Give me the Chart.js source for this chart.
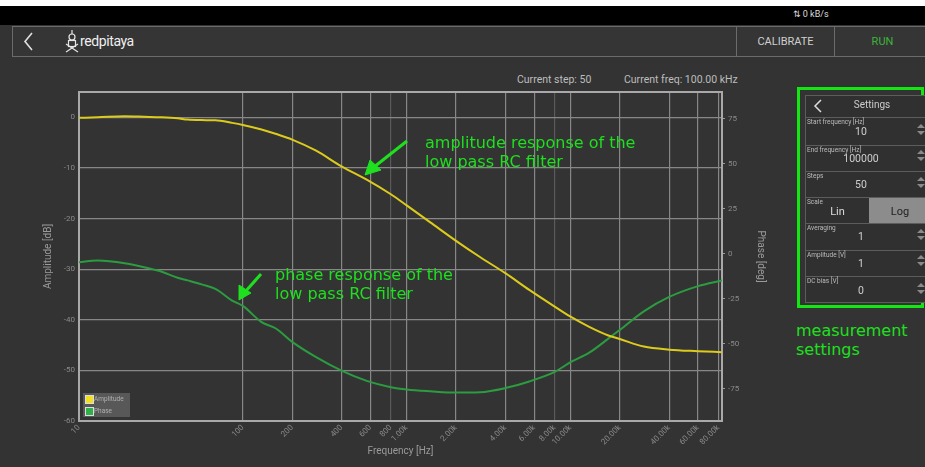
<!DOCTYPE html>
<html>
<head>
<meta charset="utf-8">
<title>Bode analyser</title>
<script src="https://cdn.jsdelivr.net/npm/chart.js@4.4.1/dist/chart.umd.min.js"></script>
<style>
  html, body { margin: 0; padding: 0; }
  body {
    width: 925px; height: 467px; background: #333; position: relative; overflow: hidden;
    font-family: Roboto, "DejaVu Sans", sans-serif; color: #ccc;
  }
  .abs { position: absolute; white-space: nowrap; }
  #strip { left: 0; top: 0; width: 925px; height: 6px; background: #fff; }
  #statusbar { left: 0; top: 6px; width: 925px; height: 19px; background: #000; }
  #header { left: 12px; top: 26px; width: 930px; height: 29px; border: 1px solid #6b6b6b; background: #353535; }
  .sep { width: 1px; height: 30px; top: 26px; background: #6b6b6b; }
  .hbtn { top: 35px; font-size: 11px; color: #cfcfcf; text-align: center; }
  #step { left: 517px; top: 73px; font-size: 10.5px; color: #bdbdbd; }
  #freq { left: 624px; top: 73px; font-size: 10.5px; color: #bdbdbd; }

  #chartwrap { left: 30px; top: 60px; width: 760px; height: 407px; }
  #legend { left: 83px; top: 393px; width: 47px; height: 24px; background: rgba(95,95,95,0.85); }
  #legend div { position: relative; height: 12px; font-size: 6.5px; line-height: 12px; color: #b0b0b0; padding-left: 11px; }
  #legend i { position: absolute; left: 2px; top: 2px; width: 7px; height: 7px; border: 1px solid #ddd; }

  .note { font-family: "DejaVu Sans", sans-serif; font-size: 16px; line-height: 19px; color: #1ee01e; }

  #setbox { left: 797px; top: 87px; width: 127px; height: 221px; border: 3px solid #14e614; box-sizing: border-box; }
  #panel { left: 805px; top: 95px; width: 130px; height: 208px; border: 1px solid #5c5c5c; background: #303030; box-sizing: border-box; }
  .row { left: 805px; width: 130px; border-top: 1px solid #5c5c5c; }
  .lbl { font-size: 6.5px; color: #bdbdbd; left: 807px; }
  .val { font-size: 10.5px; color: #cfcfcf; width: 60px; text-align: center; left: 831px; }
</style>
</head>
<body>
<div class="abs" id="strip"></div>
<div class="abs" id="statusbar"></div>
<div class="abs" style="left:793px;top:9px;font-size:9px;color:#ddd;">&#8645; 0 kB/s</div>

<div class="abs" id="header"></div>
<svg class="abs" style="left:0;top:0" width="925" height="60">
  <polyline points="32,33 25,41.5 32,50" fill="none" stroke="#e0e0e0" stroke-width="1.6"/>
  <!-- robot logo -->
  <g fill="none" stroke="#e6e6e6" stroke-width="1.2">
    <circle cx="72" cy="37" r="3"/>
    <line x1="72" y1="30" x2="72" y2="34"/>
    <rect x="68.5" y="40.5" width="7" height="6"/>
    <line x1="66" y1="52" x2="78" y2="44"/>
    <line x1="66" y1="44" x2="78" y2="52"/>
  </g>
</svg>
<div class="abs" style="left:80px;top:33px;font-family:'Liberation Sans Narrow','Roboto',sans-serif;font-size:14px;color:#eee;letter-spacing:-0.4px;">redpitaya</div>
<div class="abs sep" style="left:736px"></div>
<div class="abs sep" style="left:834px"></div>
<div class="abs hbtn" style="left:737px;width:97px;">CALIBRATE</div>
<div class="abs hbtn" style="left:835px;width:95px;color:#3cb43c;">RUN</div>

<div class="abs" id="step">Current step: 50</div>
<div class="abs" id="freq">Current freq: 100.00 kHz</div>

<div class="abs" id="chartwrap"><canvas id="bode" width="760" height="407"></canvas></div>
<div class="abs" id="legend"></div>

<!-- callouts -->
<div class="abs note" style="left:425px;top:133px;">amplitude response of the<br>low pass RC filter</div>
<div class="abs note" style="left:275px;top:265px;">phase response of the<br>low pass RC filter</div>
<div class="abs note" style="left:796px;top:321px;">measurement<br>settings</div>
<svg class="abs" style="left:0;top:0" width="925" height="467">
  <g stroke="#1ee01e" stroke-width="3" fill="#1ee01e">
    <line x1="407" y1="141" x2="374" y2="167"/>
    <polygon points="365,175 370,160 381,170" stroke-width="1"/>
    <line x1="261" y1="274" x2="245" y2="292"/>
    <polygon points="239,300 239,285 251,293" stroke-width="1"/>
  </g>
</svg>

<!-- settings panel -->
<div class="abs" id="setbox"></div>
<div class="abs" id="panel"></div>
<svg class="abs" style="left:0;top:0" width="925" height="310">
  <polyline points="821,100 815,106 821,112" fill="none" stroke="#ddd" stroke-width="1.5"/>
  <g fill="#8a8a8a">
    <polygon points="917,128 925,128 921,124"/><polygon points="917,131 925,131 921,135"/>
    <polygon points="917,154 925,154 921,150"/><polygon points="917,157 925,157 921,161"/>
    <polygon points="917,181 925,181 921,177"/><polygon points="917,184 925,184 921,188"/>
    <polygon points="917,233 925,233 921,229"/><polygon points="917,236 925,236 921,240"/>
    <polygon points="917,259 925,259 921,255"/><polygon points="917,262 925,262 921,266"/>
    <polygon points="917,287 925,287 921,283"/><polygon points="917,290 925,290 921,294"/>
  </g>
</svg>
<div class="abs" style="left:806px;top:99px;width:132px;text-align:center;font-size:10px;color:#ccc;">Settings</div>
<div class="abs row" style="top:117px;"></div>
<div class="abs lbl" style="top:118px;">Start frequency [Hz]</div>
<div class="abs val" style="top:125px;">10</div>
<div class="abs row" style="top:145px;"></div>
<div class="abs lbl" style="top:146px;">End frequency [Hz]</div>
<div class="abs val" style="top:152px;">100000</div>
<div class="abs row" style="top:171px;"></div>
<div class="abs lbl" style="top:172px;">Steps</div>
<div class="abs val" style="top:178px;">50</div>
<div class="abs row" style="top:197px;"></div>
<div class="abs" style="left:869px;top:198px;width:60px;height:25px;background:#8c8c8c;"></div>
<div class="abs lbl" style="top:198px;">Scale</div>
<div class="abs" style="left:806px;top:205px;width:63px;text-align:center;font-size:11px;color:#ddd;">Lin</div>
<div class="abs" style="left:869px;top:205px;width:62px;text-align:center;font-size:11px;color:#222;">Log</div>
<div class="abs row" style="top:223px;"></div>
<div class="abs lbl" style="top:224px;">Averaging</div>
<div class="abs val" style="top:230px;">1</div>
<div class="abs row" style="top:250px;"></div>
<div class="abs lbl" style="top:251px;">Amplitude [V]</div>
<div class="abs val" style="top:257px;">1</div>
<div class="abs row" style="top:276px;"></div>
<div class="abs lbl" style="top:277px;">DC bias [V]</div>
<div class="abs val" style="top:284px;">0</div>

<script>
// sweep 10 Hz .. 100 kHz, values
const freqHz = [10, 13, 19, 25, 32, 40, 46, 56, 68, 86, 100, 130, 160, 200, 280, 400, 570, 800,
    1000, 1400, 2000, 2800, 4000, 5600, 8000, 10000, 13000, 17000, 20000, 28000, 40000, 60000, 84000];
const amplitudeDb = [-0.1, 0, 0.2, 0.1, 0, -0.2, -0.45, -0.55, -0.6, -1.1, -1.5, -2.4, -3.3, -4.4, -6.6, -9.7, -12.3, -15.2,
    -17.4, -20.8, -24.4, -27.6, -30.8, -34.1, -37.4, -39.4, -41.4, -43.1, -43.8, -45.3, -45.9, -46.2, -46.4];
const phaseDeg = [-4.7, -3.7, -5.2, -7.5, -10, -13.3, -14.8, -17, -19.5, -26, -29, -38, -41.7, -49, -57.5, -65, -70.7, -74.2,
    -75.5, -76.5, -77.2, -77, -74.7, -71, -65.7, -60.3, -55, -47.2, -42.3, -32, -24, -18, -14.8];

const xTicks = [10, 100, 200, 400, 600, 800, 1000, 2000, 4000, 6000, 8000, 10000, 20000, 40000, 60000, 80000];
const xTickLabels = ['10', '100', '200', '400', '600', '800', '1.00k', '2.00k', '4.00k', '6.00k', '8.00k',
    '10.00k', '20.00k', '40.00k', '60.00k', '80.00k'];
const faintTicks = [800, 8000];

const gridCol = '#878787';
const frameCol = '#a9a9a9';
const tickFont = { family: 'Roboto', size: 8 };
const titleFont = { family: 'Roboto', size: 10 };

// top edge of the plot frame
const frameTop = {
    id: 'frameTop',
    afterDraw(chart) {
        const a = chart.chartArea, c = chart.ctx;
        c.save();
        c.strokeStyle = frameCol;
        c.lineWidth = 2;
        c.beginPath();
        c.moveTo(a.left - 1, a.top);
        c.lineTo(a.right + 1, a.top);
        c.stroke();
        c.restore();
    }
};

const bode = new Chart(document.getElementById('bode'), {
    type: 'line',
    data: {
        datasets: [{
            label: 'Amplitude',
            data: freqHz.map((f, i) => ({ x: f, y: amplitudeDb[i] })),
            borderColor: '#dccb1c',
            backgroundColor: '#f0e020',
            borderWidth: 2,
            pointRadius: 0,
            cubicInterpolationMode: 'monotone',
            yAxisID: 'y'
        }, {
            label: 'Phase',
            data: freqHz.map((f, i) => ({ x: f, y: phaseDeg[i] })),
            borderColor: '#2c9c40',
            backgroundColor: '#2fb04a',
            borderWidth: 2,
            pointRadius: 0,
            cubicInterpolationMode: 'monotone',
            yAxisID: 'y1'
        }]
    },
    options: {
        responsive: false,
        animation: false,
        devicePixelRatio: 1,
        layout: { padding: { top: 32, left: 0, right: 0, bottom: 0 } },
        plugins: { legend: { display: false }, tooltip: { enabled: false } },
        scales: {
            x: {
                type: 'logarithmic',
                min: 10,
                max: 84000,
                afterBuildTicks: s => { s.ticks = xTicks.map(v => ({ value: v })); },
                afterFit: s => { s.height = 46; },
                ticks: {
                    autoSkip: false,
                    minRotation: 45,
                    maxRotation: 45,
                    padding: 2,
                    color: '#8a8a8a',
                    font: tickFont,
                    callback: (v, i) => xTickLabels[i]
                },
                grid: {
                    drawTicks: false,
                    lineWidth: 1.2,
                    color: c => faintTicks.includes(c.tick && c.tick.value) ? '#5a5a5a' : gridCol
                },
                border: { color: frameCol, width: 2 },
                title: { display: true, text: 'Frequency [Hz]', color: '#9a9a9a', font: titleFont, padding: { bottom: 10 } }
            },
            y: {
                position: 'left',
                min: -60,
                max: 5,
                afterFit: s => { s.width = 49; },
                ticks: { stepSize: 10, includeBounds: false, padding: 4, color: '#8a8a8a', font: tickFont },
                grid: { drawTicks: false, lineWidth: 1.2, color: gridCol },
                border: { color: frameCol, width: 2 },
                title: { display: true, text: 'Amplitude [dB]', color: '#9a9a9a', font: titleFont, padding: { top: 12 } }
            },
            y1: {
                position: 'right',
                min: -93,
                max: 90,
                afterFit: s => { s.width = 68; },
                ticks: { stepSize: 25, includeBounds: false, padding: 3, color: '#8a8a8a', font: tickFont },
                grid: { drawOnChartArea: false, tickLength: 3, color: '#9a9a9a' },
                border: { color: frameCol, width: 2 },
                title: { display: true, text: 'Phase [deg]', color: '#9a9a9a', font: titleFont, padding: { top: 24 } }
            }
        }
    },
    plugins: [frameTop]
});

// small legend box in the lower left of the plot
const legendBox = document.getElementById('legend');
bode.data.datasets.forEach(ds => {
    const item = document.createElement('div');
    item.innerHTML = '<i style="background:' + ds.backgroundColor + '"></i>' + ds.label;
    legendBox.appendChild(item);
});
</script>
</body>
</html>
